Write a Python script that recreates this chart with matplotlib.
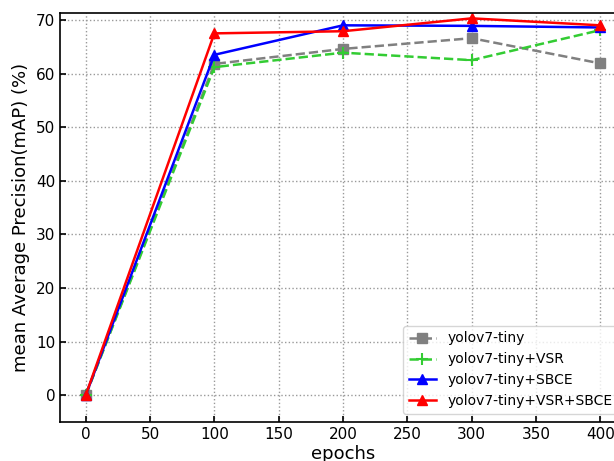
import matplotlib
matplotlib.use("Agg")
import matplotlib.pyplot as plt

epochs = [0, 100, 200, 300, 400]
tiny = [0, 61.8, 64.6, 66.6, 61.9]
tiny_vsr = [0, 61.2, 63.9, 62.5, 68.1]
tiny_sbce = [0, 63.5, 69.0, 68.9, 68.6]
tiny_vsr_sbce = [0, 67.5, 67.9, 70.3, 69.0]
labels = ["yolov7-tiny", "yolov7-tiny+VSR", "yolov7-tiny+SBCE", "yolov7-tiny+VSR+SBCE"]

fig = plt.figure(figsize=(6.14, 4.61), dpi=100)
W, H = 614, 461
left, right, top, bottom = 60, 626, 13, 422
ax = fig.add_axes([left / W, (H - bottom) / H, (right - left) / W, (bottom - top) / H])

ax.plot(epochs, tiny, color="gray", linestyle="--", marker="s", markersize=6.5, linewidth=1.8, label=labels[0])
ax.plot(epochs, tiny_vsr, color="#33cc33", linestyle="--", marker="+", markersize=8, markeredgewidth=1.5, linewidth=1.8, label=labels[1])
ax.plot(epochs, tiny_sbce, color="blue", linestyle="-", marker="^", markersize=7.5, linewidth=1.8, label=labels[2])
ax.plot(epochs, tiny_vsr_sbce, color="red", linestyle="-", marker="^", markersize=7.5, linewidth=1.8, label=labels[3])

ax.set_xlim(-20, 420)
ax.set_ylim(-5, 71.3)
ax.set_xticks([0, 50, 100, 150, 200, 250, 300, 350, 400])
ax.set_yticks([0, 10, 20, 30, 40, 50, 60, 70])
ax.tick_params(direction="in", labelsize=11, length=4, width=1.2)
ax.grid(True, linestyle=":", color="#999999", linewidth=1)
for s in ax.spines.values():
    s.set_linewidth(1.2)
ax.set_xlabel("epochs", fontsize=13, labelpad=2)
ax.set_ylabel("mean Average Precision(mAP) (%)", fontsize=13)

ax.legend(loc="lower left", bbox_to_anchor=((403 - left) / (right - left), 0.02),
          borderaxespad=0, fontsize=10)

fig.savefig("out.png", dpi=100)
